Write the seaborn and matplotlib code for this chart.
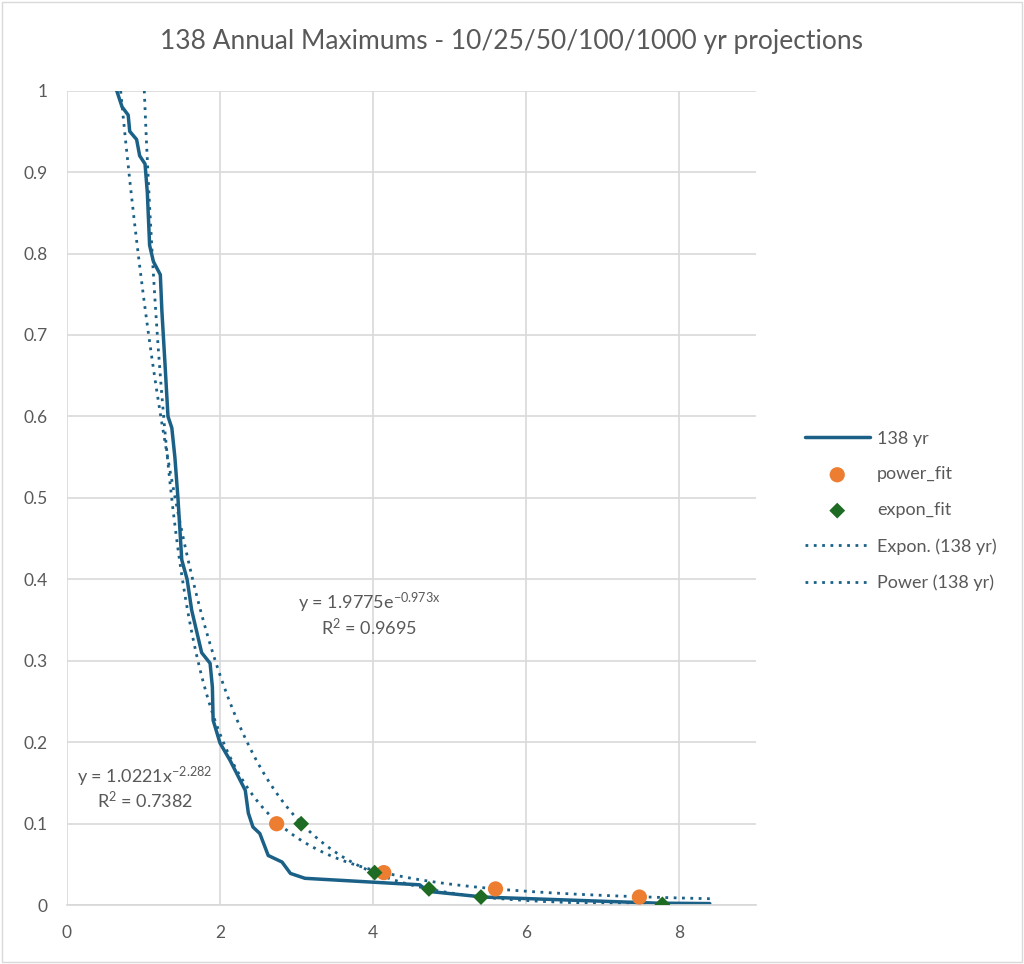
import numpy as np
import matplotlib
matplotlib.use("Agg")
import matplotlib.pyplot as plt
import seaborn as sns
import pandas as pd

obs_x = [0.65,0.72,0.80,0.82,0.91,0.95,1.02,1.05,1.08,1.13,1.22,1.24,1.28,1.32,1.37,1.41,1.45,
         1.50,1.57,1.63,1.76,1.87,1.90,1.91,2.00,2.13,2.33,2.37,2.43,2.52,2.63,2.81,2.92,3.11,
         4.61,4.72,5.44,7.71,8.40]
obs_y = [1.0,0.98,0.97,0.95,0.94,0.92,0.91,0.875,0.81,0.79,0.774,0.73,0.666,0.60,0.586,0.55,0.50,
         0.424,0.40,0.362,0.31,0.297,0.268,0.227,0.199,0.178,0.141,0.113,0.096,0.088,0.061,0.053,0.039,0.033,
         0.025,0.017,0.010,0.0025,0.002]
power_x = [2.74,4.14,5.60,7.48]
power_y = [0.10,0.04,0.02,0.01]
expon_x = [3.06,4.02,4.73,5.41,7.78]
expon_y = [0.10,0.04,0.02,0.01,0.001]
exp_a, exp_b = 1.9775, -0.973
pow_a, pow_b = 1.0221, -2.282

sns.set_theme(style="whitegrid")
plt.rcParams['font.family'] = ['Lato', 'DejaVu Sans']
plt.rcParams['mathtext.default'] = 'regular'
fig = plt.figure(figsize=(10.24, 9.64), dpi=100)
ax = fig.add_axes([0.0654, 0.061, 0.6726, 0.845])
blue = "#1b6187"
grey = "#595959"

xs = np.linspace(min(obs_x), max(obs_x), 400)
df = pd.DataFrame({"x": obs_x, "y": obs_y})
sns.lineplot(data=df, x="x", y="y", ax=ax, color=blue, lw=2.5, label="138 yr", sort=False)
sns.scatterplot(x=power_x, y=power_y, ax=ax, color="#ed7d31", s=120, marker="o", edgecolor="none", label="power_fit", zorder=3)
sns.scatterplot(x=expon_x, y=expon_y, ax=ax, color="#1e6b24", s=65, marker="D", edgecolor="none", label="expon_fit", zorder=3)
ax.plot(xs, exp_a*np.exp(exp_b*xs), ls=(0, (1, 2)), color=blue, lw=2, label="Expon. (138 yr)")
ax.plot(xs, pow_a*xs**pow_b, ls=(0, (1, 2)), color=blue, lw=2, label="Power (138 yr)")

ax.set_xlim(0, 9)
ax.set_ylim(0, 1)
ax.set_xticks([0, 2, 4, 6, 8])
ax.set_yticks(np.arange(0, 1.01, 0.1))
ax.set_yticklabels(["0"] + [f"{v:.1f}" for v in np.arange(0.1, 0.95, 0.1)] + ["1"])
ax.set_xlabel(""); ax.set_ylabel("")
ax.tick_params(colors=grey, labelsize=12.5, pad=8)
ax.grid(color="#d9d9d9", lw=1.2)
for s in ["top", "right", "left"]:
    ax.spines[s].set_visible(False)
ax.spines["bottom"].set_color("#d9d9d9")

ax.text(3.95, 0.363, r"y = 1.9775e$^{-0.973x}$", ha="center", color=grey, fontsize=13)
ax.text(3.95, 0.332, r"R$^2$ = 0.9695", ha="center", color=grey, fontsize=13)
ax.text(1.02, 0.150, r"y = 1.0221x$^{-2.282}$", ha="center", color=grey, fontsize=13)
ax.text(1.02, 0.119, r"R$^2$ = 0.7382", ha="center", color=grey, fontsize=13)

fig.suptitle("138 Annual Maximums - 10/25/50/100/1000 yr projections", y=0.97, fontsize=19, color=grey)
h, l = ax.get_legend_handles_labels()
ax.legend_.remove()
fig.legend(h, l, loc="center left", bbox_to_anchor=(0.77, 0.47), frameon=False,
           fontsize=13, labelcolor=grey, handlelength=3.6, handletextpad=0.4, labelspacing=1.1)
fig.patches.append(plt.Rectangle((0.002, 0.002), 0.996, 0.996, transform=fig.transFigure,
                                 fill=False, edgecolor="#d9d9d9", lw=1))
fig.savefig("out.png", dpi=100)
